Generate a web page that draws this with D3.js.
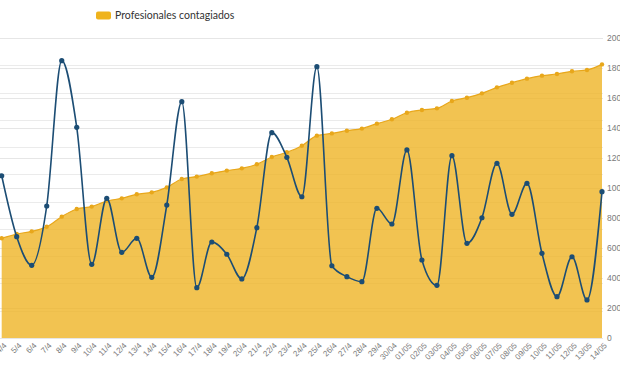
<!DOCTYPE html>
<html>
<head>
<meta charset="utf-8">
<script src="https://cdn.jsdelivr.net/npm/d3@7"></script>
<style>
  body { margin: 0; background: #fff; }
  svg { display: block; font-family: "Lato", "Open Sans", sans-serif; }
</style>
</head>
<body>
<svg width="620" height="368"></svg>
<script>
let fechas = ["4/4", "5/4", "6/4", "7/4", "8/4", "9/4", "10/4", "11/4", "12/4", "13/4",
    "14/4", "15/4", "16/4", "17/4", "18/4", "19/4", "20/4", "21/4", "22/4", "23/4",
    "24/4", "25/4", "26/4", "27/4", "28/4", "29/4", "30/04", "01/05", "02/05", "03/05",
    "04/05", "05/05", "06/05", "07/05", "08/05", "09/05", "10/05", "11/05", "12/05", "13/05",
    "14/05"];

// acumulado (eje derecho)
let contagiados = [665, 693, 711, 742, 809, 860, 876, 913, 931, 958,
    971, 1004, 1060, 1076, 1098, 1116, 1131, 1158, 1207, 1238,
    1282, 1349, 1364, 1382, 1396, 1429, 1458, 1502, 1520, 1531,
    1580, 1602, 1631, 1671, 1702, 1729, 1749, 1760, 1778, 1787,
    1824];

// serie azul (eje izquierdo oculto)
let nuevos = [1190, 743, 533, 968, 2034, 1545, 540, 1024, 628, 731,
    445, 975, 1733, 369, 704, 614, 433, 809, 1506, 1325,
    1036, 1990, 530, 450, 413, 951, 836, 1379, 572, 386,
    1337, 694, 882, 1281, 907, 1134, 621, 303, 596, 279,
    1073];

let svg = d3.select("svg");

let x = d3.scalePoint().domain(fechas).range([1.7, 602]),
    yR = d3.scaleLinear().domain([0, 2000]).range([338, 38]),
    yL = d3.scaleLinear().domain([0, 2200]).range([338, 38]);

// rejillas
let grid = svg.append("g");
grid.selectAll(".gl")
    .data(yL.ticks(11))
    .enter().append("line")
    .attr("x1", 0).attr("x2", 603)
    .attr("y1", function(d) { return Math.round(yL(d)) + 0.5; })
    .attr("y2", function(d) { return Math.round(yL(d)) + 0.5; })
    .attr("stroke", "#ebebeb");
grid.selectAll(".gr")
    .data(yR.ticks(10))
    .enter().append("line")
    .attr("x1", 0).attr("x2", 603)
    .attr("y1", function(d) { return Math.round(yR(d)) + 0.5; })
    .attr("y2", function(d) { return Math.round(yR(d)) + 0.5; })
    .attr("stroke", "#e6e6e6");

let area = d3.area()
    .curve(d3.curveMonotoneX)
    .x(function(d, i) { return x(fechas[i]); })
    .y0(yR(0))
    .y1(function(d) { return yR(d); });

let areaLine = d3.line()
    .curve(d3.curveMonotoneX)
    .x(function(d, i) { return x(fechas[i]); })
    .y(function(d) { return yR(d); });

let line = d3.line()
    .curve(d3.curveMonotoneX)
    .x(function(d, i) { return x(fechas[i]); })
    .y(function(d) { return yL(d); });

let plot = svg.append("g");

plot.append("path")
    .datum(contagiados)
    .attr("d", area)
    .attr("fill", "#efb425")
    .attr("fill-opacity", 0.8);

plot.append("path")
    .datum(contagiados)
    .attr("d", areaLine)
    .attr("fill", "none")
    .attr("stroke", "#e8a71b")
    .attr("stroke-width", 1.2);

plot.selectAll(".pa")
    .data(contagiados)
    .enter().append("circle")
    .attr("cx", function(d, i) { return x(fechas[i]); })
    .attr("cy", function(d) { return yR(d); })
    .attr("r", 2.2)
    .attr("fill", "#e8a71b");

plot.append("path")
    .datum(nuevos)
    .attr("d", line)
    .attr("fill", "none")
    .attr("stroke", "#1c4d74")
    .attr("stroke-width", 1.6);

plot.selectAll(".pb")
    .data(nuevos)
    .enter().append("circle")
    .attr("cx", function(d, i) { return x(fechas[i]); })
    .attr("cy", function(d) { return yL(d); })
    .attr("r", 2.6)
    .attr("fill", "#1c4d74");

// eje derecho
let axR = svg.append("g")
    .attr("transform", "translate(603,0)")
    .call(d3.axisRight(yR).ticks(10).tickSize(0).tickPadding(4).tickFormat(d3.format("d")));
axR.select(".domain").remove();
axR.selectAll("text")
    .style("font-size", "8.5px")
    .attr("fill", "#7a7a7a");

// eje x
let axX = svg.append("g")
    .attr("transform", "translate(0,338)")
    .call(d3.axisBottom(x).tickSize(0));
axX.select(".domain").remove();
axX.selectAll("text")
    .attr("x", 0)
    .attr("y", 0)
    .attr("dy", "0.35em")
    .attr("transform", "translate(3,6) rotate(-45)")
    .style("text-anchor", "end")
    .style("font-size", "8px")
    .attr("fill", "#7a7a7a");

// leyenda
svg.append("rect")
    .attr("x", 96).attr("y", 11.5)
    .attr("width", 15).attr("height", 8)
    .attr("rx", 2)
    .attr("fill", "#efb31c");
svg.append("text")
    .attr("x", 115).attr("y", 15.5)
    .attr("dy", "0.35em")
    .style("font-size", "10.5px")
    .attr("fill", "#333")
    .text("Profesionales contagiados");
</script>
</body>
</html>
